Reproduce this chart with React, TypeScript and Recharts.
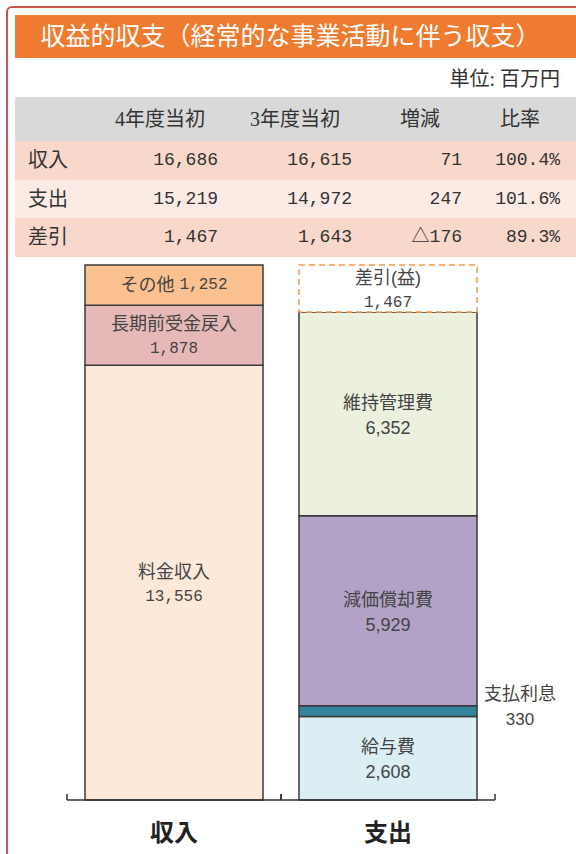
import React from 'react';
import { BarChart, Bar, XAxis, YAxis, LabelList } from 'recharts';

// table
const tableHeaders = ['4年度当初', '3年度当初', '増減', '比率'];
const tableRowNames = ['収入', '支出', '差引'];
const currentYear = ['16,686', '15,219', '1,467'];
const previousYear = ['16,615', '14,972', '1,643'];
const diffs = ['71', '247', '△176'];
const ratios = ['100.4%', '101.6%', '89.3%'];

// chart
const categories = ['収入', '支出'];
const ryokin = [13556, 0];
const choki = [1878, 0];
const sonota = [1252, 0];
const kyuyo = [0, 2608];
const shiharai = [0, 330];
const genka = [0, 5929];
const iji = [0, 6352];
const sashihiki = [0, 1467];

const chartData = categories.map((name, i) => ({
  name,
  ryokin: ryokin[i] || undefined,
  choki: choki[i] || undefined,
  sonota: sonota[i] || undefined,
  kyuyo: kyuyo[i] || undefined,
  shiharai: shiharai[i] || undefined,
  genka: genka[i] || undefined,
  iji: iji[i] || undefined,
  sashihiki: sashihiki[i] || undefined,
}));

const SERIF = "'Liberation Serif', 'DejaVu Serif', 'Noto Sans CJK JP', serif";
const MONO = "'Liberation Mono', 'Noto Sans CJK JP', monospace";
const SANS = "'Liberation Sans', 'Noto Sans CJK JP', sans-serif";
const TEXT = '#444';
const fmt = (v: number) => v.toLocaleString('en-US');

// two-line label centred in a segment
const makeLabel = (title: string, numFont: string) => (props: any) => {
  const { x, y, width, height, value } = props;
  if (!value) return null;
  const cx = x + width / 2;
  const cy = y + height / 2;
  return (
    <g>
      <text x={cx} y={cy - 11} textAnchor="middle" dominantBaseline="central" fontSize={18} fill={TEXT} fontFamily={SANS}>
        {title}
      </text>
      <text x={cx} y={cy + 14} textAnchor="middle" dominantBaseline="central" fontSize={numFont === MONO ? 16 : 18} fill={TEXT} fontFamily={numFont}>
        {fmt(value)}
      </text>
    </g>
  );
};

const oneLineLabel = (title: string) => (props: any) => {
  const { x, y, width, height, value } = props;
  if (!value) return null;
  return (
    <text x={x + width / 2} y={y + height / 2} textAnchor="middle" dominantBaseline="central" fontSize={18} fill={TEXT} fontFamily={SANS}>
      {title} <tspan fontFamily={MONO} fontSize={16}>{fmt(value)}</tspan>
    </text>
  );
};

const outsideLabel = (title: string) => (props: any) => {
  const { x, y, width, height, value } = props;
  if (!value) return null;
  const cx = x + width + 43;
  const cy = y + height / 2;
  return (
    <g>
      <text x={cx} y={cy - 17} textAnchor="middle" dominantBaseline="central" fontSize={18} fill={TEXT} fontFamily={SANS}>
        {title}
      </text>
      <text x={cx} y={cy + 8} textAnchor="middle" dominantBaseline="central" fontSize={17} fill={TEXT} fontFamily={SANS}>
        {fmt(value)}
      </text>
    </g>
  );
};

const CategoryTick = (props: any) => {
  const { x, y, payload } = props;
  const off = payload.offset ?? 107;
  return (
    <g>
      <line x1={x - off} y1={y} x2={x - off} y2={y - 6} stroke="#333" strokeWidth={1.5} />
      <line x1={x + off} y1={y} x2={x + off} y2={y - 6} stroke="#333" strokeWidth={1.5} />
      <text x={x} y={y + 33} textAnchor="middle" dominantBaseline="central" fontSize={24} fontWeight="bold" fill="#222" fontFamily={SERIF}>
        {payload.value}
      </text>
    </g>
  );
};

const cellStyle: React.CSSProperties = { position: 'absolute', fontSize: 20, color: '#333', fontFamily: SERIF };
const numStyle: React.CSSProperties = { position: 'absolute', fontSize: 18, color: '#333', fontFamily: MONO };

export default function App() {
  const rowBg = ['#f8d8cb', '#fcebe5', '#f8d8cb'];
  const colRight = [218, 352, 462, 560];
  const headCenter = [160, 295, 420, 520];
  const total = 16686;

  return (
    <div style={{ position: 'absolute', left: 0, top: 0, width: 576, height: 854, overflow: 'hidden', background: '#fff' }}>
      <div style={{ position: 'absolute', left: 6, top: 6, width: 640, height: 920, border: '2px solid #c9544c', borderRadius: 6, boxSizing: 'border-box' }} />
      <div style={{ position: 'absolute', left: 15, top: 15, width: 561, height: 43, background: '#ee7b30', color: '#fff', fontFamily: SERIF, fontSize: 25, lineHeight: '43px', textAlign: 'center', paddingRight: 10, boxSizing: 'border-box', whiteSpace: 'nowrap' }}>
        収益的収支（経常的な事業活動に伴う収支）
      </div>
      <div style={{ ...cellStyle, right: 16, top: 66, lineHeight: '26px' }}>単位: 百万円</div>

      <div style={{ position: 'absolute', left: 15, top: 97, width: 561, height: 44, background: '#d9d9d9' }} />
      {tableHeaders.map((h, i) => (
        <div key={h} style={{ ...cellStyle, left: headCenter[i] - 60, width: 120, textAlign: 'center', top: 97, lineHeight: '44px' }}>{h}</div>
      ))}
      {tableRowNames.map((r, i) => {
        const top = 141 + i * 38.5;
        const vals = [currentYear[i], previousYear[i], diffs[i], ratios[i]];
        return (
          <React.Fragment key={r}>
            <div style={{ position: 'absolute', left: 15, top, width: 561, height: 38.5, background: rowBg[i] }} />
            <div style={{ ...cellStyle, left: 28, top, lineHeight: '38px' }}>{r}</div>
            {vals.map((v, j) => (
              <div key={j} style={{ ...numStyle, right: 576 - colRight[j], top, lineHeight: '38px' }}>{v}</div>
            ))}
          </React.Fragment>
        );
      })}

      <div style={{ position: 'absolute', left: 0, top: 250 }}>
        <BarChart width={576} height={600} data={chartData} margin={{ top: 15, right: 81, left: 67, bottom: 0 }} barSize={178}>
          <YAxis hide domain={[0, total]} />
          <XAxis dataKey="name" axisLine={{ stroke: '#333', strokeWidth: 1.5 }} tickLine={false} tickSize={0} tickMargin={0} height={50} tick={<CategoryTick />} interval={0} />
          <Bar dataKey="ryokin" stackId="a" fill="#fde9d9" stroke="#3a3a3a" strokeWidth={1.5} isAnimationActive={false}>
            <LabelList dataKey="ryokin" content={makeLabel('料金収入', MONO)} />
          </Bar>
          <Bar dataKey="choki" stackId="a" fill="#e6b9b8" stroke="#3a3a3a" strokeWidth={1.5} isAnimationActive={false}>
            <LabelList dataKey="choki" content={makeLabel('長期前受金戻入', MONO)} />
          </Bar>
          <Bar dataKey="sonota" stackId="a" fill="#fac08f" stroke="#3a3a3a" strokeWidth={1.5} isAnimationActive={false}>
            <LabelList dataKey="sonota" content={oneLineLabel('その他')} />
          </Bar>
          <Bar dataKey="kyuyo" stackId="a" fill="#dbeef3" stroke="#3a3a3a" strokeWidth={1.5} isAnimationActive={false}>
            <LabelList dataKey="kyuyo" content={makeLabel('給与費', SANS)} />
          </Bar>
          <Bar dataKey="shiharai" stackId="a" fill="#31849b" stroke="#3a3a3a" strokeWidth={1.5} isAnimationActive={false}>
            <LabelList dataKey="shiharai" content={outsideLabel('支払利息')} />
          </Bar>
          <Bar dataKey="genka" stackId="a" fill="#b3a2c7" stroke="#3a3a3a" strokeWidth={1.5} isAnimationActive={false}>
            <LabelList dataKey="genka" content={makeLabel('減価償却費', SANS)} />
          </Bar>
          <Bar dataKey="iji" stackId="a" fill="#ebf1de" stroke="#3a3a3a" strokeWidth={1.5} isAnimationActive={false}>
            <LabelList dataKey="iji" content={makeLabel('維持管理費', SANS)} />
          </Bar>
          <Bar dataKey="sashihiki" stackId="a" fill="#ffffff" stroke="#f79646" strokeWidth={1.5} strokeDasharray="6 4" isAnimationActive={false}>
            <LabelList dataKey="sashihiki" content={makeLabel('差引(益)', MONO)} />
          </Bar>
        </BarChart>
      </div>
    </div>
  );
}
